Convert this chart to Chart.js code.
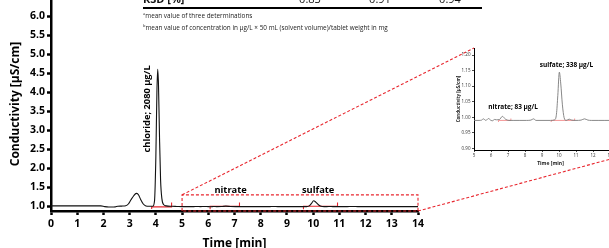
<!DOCTYPE html>
<html>
<head>
<meta charset="utf-8">
<script src="https://cdn.jsdelivr.net/npm/chart.js@4.4.1/dist/chart.umd.min.js"></script>
<style>
  html, body { margin: 0; padding: 0; background: #fff; }
  body { width: 609px; height: 248px; position: relative; overflow: hidden; font-family: "Open Sans", sans-serif; }
  #mainBox { position: absolute; left: 0; top: -20px; width: 609px; height: 268px; }
  #insetBox { position: absolute; left: 440px; top: 40px; width: 200px; height: 135px; }
  .tblHead { position: absolute; top: -9px; font-size: 11px; font-weight: bold; color: #111; }
  .tblVal { position: absolute; top: -9px; font-size: 11px; color: #111; transform: translateX(-50%); }
  .tblRule { position: absolute; left: 143px; top: 7px; width: 339px; height: 2px; background: #000; }
  .notes { position: absolute; left: 143px; top: 9px; font-size: 6.4px; line-height: 10px; color: #222; white-space: nowrap; }
  .notes sup { font-size: 4px; vertical-align: 3px; }
</style>
</head>
<body>
<div id="mainBox"><canvas id="mainChart" width="609" height="268"></canvas></div>
<div id="insetBox"><canvas id="insetChart" width="200" height="135"></canvas></div>

<div class="tblHead" style="left:143px">RSD [%]</div>
<div class="tblVal" style="left:310px">0.83</div>
<div class="tblVal" style="left:380px">0.91</div>
<div class="tblVal" style="left:450px">0.94</div>
<div class="tblRule"></div>
<div class="notes">
  <div><sup>a</sup>mean value of three determinations</div>
  <div><sup>b</sup>mean value of concentration in µg/L × 50 mL (solvent volume)/tablet weight in mg</div>
</div>

<script>
"use strict";

// chromatogram, 0 - 5 min
const earlyTime = [0, 0.5, 1.0, 1.5, 1.9, 2.05, 2.2, 2.35, 2.45, 2.55, 2.7, 2.85, 2.95, 3.05, 3.15, 3.25, 3.33, 3.42, 3.52, 3.62, 3.75, 3.88, 3.95, 4.0, 4.04, 4.07, 4.1, 4.14, 4.18, 4.23, 4.3, 4.4, 4.6, 4.8];
const earlyCond = [1.01, 1.01, 1.01, 1.01, 1.01, 0.99, 0.98, 0.98, 0.985, 1.0, 1.005, 1.015, 1.06, 1.17, 1.27, 1.34, 1.31, 1.18, 1.06, 1.01, 1.0, 1.0, 1.15, 2.3, 4.0, 4.6, 4.2, 2.8, 1.7, 1.2, 1.04, 1.01, 1.0, 0.995];

// chromatogram, 5 - 14 min (also shown in the inset)
const lateTime = [5.0, 5.3, 5.45, 5.55, 5.7, 5.85, 6.0, 6.1, 6.2, 6.32, 6.5, 6.67, 6.85, 7.05, 7.3, 7.7, 8.1, 8.35, 8.5, 8.65, 9.0, 9.5, 9.75, 9.85, 9.93, 10.02, 10.1, 10.2, 10.3, 10.42, 10.6, 10.75, 11.0, 11.3, 11.5, 11.7, 11.9, 12.3, 12.7, 13.2, 13.6, 14.0];
const lateCond = [0.99, 0.99, 0.991, 0.995, 0.99, 0.996, 0.99, 0.989, 0.993, 0.992, 0.993, 1.003, 0.994, 0.99, 0.99, 0.99, 0.99, 0.991, 0.995, 0.99, 0.99, 0.99, 0.992, 1.01, 1.07, 1.145, 1.11, 1.04, 0.999, 0.99, 0.994, 0.991, 0.99, 0.991, 0.995, 0.991, 0.99, 0.99, 0.99, 0.99, 0.99, 0.99];

// peak integration marks, main chart
const mainIntStart = [3.84, 6.07, 9.63];
const mainIntEnd = [4.6, 7.19, 10.93];
const mainIntLevel = [0.985, 1.0, 1.0];
const mainIntLow = [0.93, 0.92, 0.92];
const mainIntHigh = [1.1, 1.1, 1.1];

// peak integration marks, inset
const insetIntStart = [6.44, 9.54];
const insetIntEnd = [7.17, 10.92];
const insetIntLevel = [0.99, 0.99];
const insetIntLow = [0.985, 0.985];
const insetIntHigh = [0.996, 0.996];

// zoomed window
const zoomRange = [5, 14];
const zoomTop = 1.3;
const connectorEnd = 15;

// axis ranges and ticks
const mainXRange = [0, 14];
const mainYRange = [0.876, 6.5];
const mainYTicks = [1.0, 1.5, 2.0, 2.5, 3.0, 3.5, 4.0, 4.5, 5.0, 5.5, 6.0, 6.5];
const insetXRange = [5, 14];
const insetYRange = [0.895, 1.2225];
const insetYTicks = [0.90, 0.95, 1.00, 1.05, 1.10, 1.15, 1.20];

// peak labels
const mainLabelText = ["chloride; 2080 µg/L", "nitrate", "sulfate"];
const mainLabelX = [3.66, 6.85, 10.19];
const mainLabelY = [3.56, 1.41, 1.41];
const mainLabelRot = [-90, 0, 0];
const insetLabelText = ["nitrate; 83 µg/L", "sulfate; 338 µg/L"];
const insetLabelX = [7.3, 10.44];
const insetLabelY = [1.034, 1.168];

const RED = "#e8262e";

Chart.defaults.font.family = "'Open Sans', sans-serif";

function toPoints(xs, ys) {
  return xs.map((x, i) => ({x: x, y: ys[i]}));
}

function intDatasets(start, end, level, low, high, color, width) {
  return start.map((s, i) => ({
    data: [
      {x: s, y: low[i]}, {x: s, y: level[i]},
      {x: end[i], y: level[i]}, {x: end[i], y: high[i]}
    ],
    borderColor: color, borderWidth: width, pointRadius: 0, tension: 0, fill: false
  }));
}

function labelPlugin(texts, xs, ys, rots, font) {
  return {
    id: "peakLabels",
    afterDatasetsDraw(chart) {
      const ctx = chart.ctx;
      ctx.save();
      ctx.font = font;
      ctx.fillStyle = "#000";
      ctx.textAlign = "center";
      ctx.textBaseline = "middle";
      texts.forEach((t, i) => {
        const px = chart.scales.x.getPixelForValue(xs[i]);
        const py = chart.scales.y.getPixelForValue(ys[i]);
        ctx.save();
        ctx.translate(px, py);
        ctx.rotate((rots ? rots[i] : 0) * Math.PI / 180);
        ctx.fillText(t, 0, 0);
        ctx.restore();
      });
      ctx.restore();
    }
  };
}

function fixedTicks(values) {
  return function(scale) {
    scale.ticks = values.map(v => ({value: v}));
  };
}

// ---------- inset ----------
const insetFont = {size: 4.5, weight: "normal"};
const insetChart = new Chart(document.getElementById("insetChart"), {
  type: "line",
  data: {
    datasets: [{
      data: toPoints(lateTime, lateCond),
      borderColor: "#7a7a7a", borderWidth: 0.9, pointRadius: 0,
      cubicInterpolationMode: "monotone", fill: false
    }].concat(intDatasets(insetIntStart, insetIntEnd, insetIntLevel, insetIntLow, insetIntHigh, "#f28a8a", 0.9))
  },
  options: {
    responsive: false, animation: false,
    layout: {padding: {top: 8, right: 13, left: 0, bottom: 0}},
    plugins: {legend: {display: false}, tooltip: {enabled: false}},
    scales: {
      x: {
        type: "linear", min: insetXRange[0], max: insetXRange[1],
        afterFit: s => { s.height = 25; },
        ticks: {stepSize: 1, padding: 1.5, color: "#333", font: insetFont, maxRotation: 0},
        grid: {drawOnChartArea: false, tickLength: 2, tickWidth: 0.7, color: "#000"},
        border: {width: 1, color: "#000"},
        title: {display: true, text: "Time [min]", color: "#222", font: {size: 5, weight: "bold", lineHeight: 1.2}, padding: {top: 0, bottom: 8}}
      },
      y: {
        type: "linear", min: insetYRange[0], max: insetYRange[1],
        afterFit: s => { s.width = 34; },
        afterBuildTicks: fixedTicks(insetYTicks),
        ticks: {padding: 1.5, color: "#333", font: insetFont, callback: v => v.toFixed(2)},
        grid: {drawOnChartArea: false, tickLength: 2, tickWidth: 0.7, color: "#000"},
        border: {width: 1, color: "#000"},
        title: {display: true, text: "Conductivity [µS/cm]", color: "#222", font: {size: 4.5, weight: "bold", lineHeight: 1.2}, padding: {top: 16, bottom: 0}}
      }
    }
  },
  plugins: [labelPlugin(insetLabelText, insetLabelX, insetLabelY, null, "bold 6.5px 'Open Sans'")]
});

// ---------- main ----------
const connectorPlugin = {
  id: "connectors",
  afterDatasetsDraw(chart) {
    const mainRect = chart.canvas.getBoundingClientRect();
    const insRect = insetChart.canvas.getBoundingClientRect();
    const dx = insRect.left - mainRect.left;
    const dy = insRect.top - mainRect.top;
    const ia = insetChart.chartArea;
    const xs = chart.scales.x, ys = chart.scales.y;
    const ctx = chart.ctx;
    ctx.save();
    ctx.strokeStyle = RED;
    ctx.lineWidth = 1.1;
    ctx.setLineDash([3, 2]);
    ctx.beginPath();
    ctx.moveTo(xs.getPixelForValue(zoomRange[0]), ys.getPixelForValue(zoomTop));
    ctx.lineTo(ia.left + dx, ia.top + dy);
    ctx.moveTo(xs.getPixelForValue(zoomRange[1]), ys.bottom);
    ctx.lineTo(insetChart.scales.x.getPixelForValue(connectorEnd) + dx, ia.bottom + dy);
    ctx.stroke();
    ctx.restore();
  }
};

const mainChart = new Chart(document.getElementById("mainChart"), {
  type: "line",
  data: {
    datasets: [{
      data: toPoints(earlyTime.concat(lateTime), earlyCond.concat(lateCond)),
      borderColor: "#111", borderWidth: 1.1, pointRadius: 0,
      cubicInterpolationMode: "monotone", fill: false
    }].concat(intDatasets(mainIntStart, mainIntEnd, mainIntLevel, mainIntLow, mainIntHigh, RED, 1.1))
      .concat([{
        data: [
          {x: zoomRange[0], y: mainYRange[0]}, {x: zoomRange[0], y: zoomTop},
          {x: zoomRange[1], y: zoomTop}, {x: zoomRange[1], y: mainYRange[0]},
          {x: zoomRange[0], y: mainYRange[0]}
        ],
        borderColor: RED, borderWidth: 1.1, borderDash: [3, 2], pointRadius: 0,
        tension: 0, fill: false, clip: false
      }])
  },
  options: {
    responsive: false, animation: false,
    layout: {padding: {top: 17, right: 191, left: 0, bottom: 0}},
    plugins: {legend: {display: false}, tooltip: {enabled: false}},
    scales: {
      x: {
        type: "linear", min: mainXRange[0], max: mainXRange[1],
        afterFit: s => { s.height = 37; },
        ticks: {stepSize: 1, padding: 3, color: "#000", font: {size: 10.5, weight: "bold"}, maxRotation: 0},
        grid: {drawOnChartArea: false, tickLength: 4, tickWidth: 2.5, color: "#000"},
        border: {width: 2.5, color: "#000"},
        title: {display: true, text: "Time [min]", color: "#000", font: {size: 12, weight: "bold", lineHeight: 0.75}, padding: {top: 0, bottom: 0}}
      },
      y: {
        type: "linear", min: mainYRange[0], max: mainYRange[1],
        afterFit: s => { s.width = 51; },
        afterBuildTicks: fixedTicks(mainYTicks),
        ticks: {padding: 2, color: "#000", font: {size: 10.5, weight: "bold"}, callback: v => v.toFixed(1)},
        grid: {drawOnChartArea: false, tickLength: 4, tickWidth: 2.5, color: "#000"},
        border: {width: 2.5, color: "#000"},
        title: {display: true, text: "Conductivity [µS/cm]", color: "#000", font: {size: 12, weight: "bold", lineHeight: 1.2}, padding: {top: 8, bottom: 0}}
      }
    }
  },
  plugins: [
    labelPlugin(mainLabelText, mainLabelX, mainLabelY, mainLabelRot, "bold 9.3px 'Open Sans'"),
    connectorPlugin
  ]
});
</script>
</body>
</html>
